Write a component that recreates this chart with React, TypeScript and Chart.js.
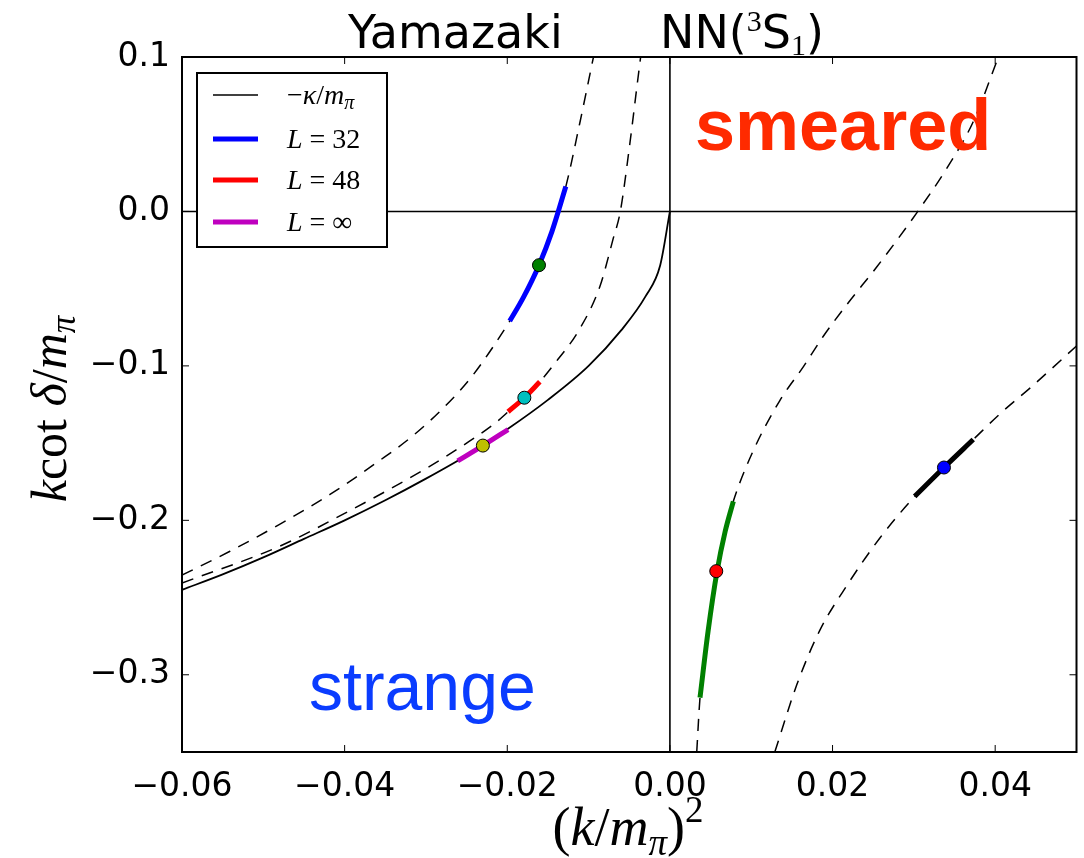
import React, { useEffect, useRef } from "react";
import { Chart, registerables } from "chart.js";

Chart.register(...registerables);

// ---------- data ----------
const X_TICKS = [-0.06, -0.04, -0.02, 0.0, 0.02, 0.04];
const Y_TICKS = [0.1, 0.0, -0.1, -0.2, -0.3];
const X_MIN = -0.06;
const X_MAX = 0.05;
const Y_MIN = -0.35;
const Y_MAX = 0.1;

// -kappa/m_pi (solid)
const kappaX = [-0.06, -0.055, -0.05, -0.045, -0.04, -0.035, -0.03, -0.025, -0.02, -0.015, -0.01, -0.006, -0.003, -0.0012, 0.0];
const kappaY = [-0.245, -0.235, -0.224, -0.212, -0.2, -0.187, -0.173, -0.158, -0.141, -0.122, -0.1, -0.077, -0.055, -0.035, 0.0];

// dashed curve through L=32
const dashAX = [-0.06, -0.0541, -0.048, -0.0418, -0.0357, -0.0316, -0.0271, -0.0242, -0.0197, -0.018, -0.0161, -0.0145, -0.0128, -0.0111, -0.0094];
const dashAY = [-0.2355, -0.22, -0.2026, -0.1832, -0.1613, -0.1452, -0.1232, -0.1058, -0.071, -0.0555, -0.0348, -0.0129, 0.0161, 0.0568, 0.1];

// dashed curve through L=48
const dashBX = [-0.06, -0.048, -0.04, -0.03, -0.025, -0.0215, -0.0199, -0.0179, -0.016, -0.0144, -0.0111, -0.0086, -0.007, -0.0061, -0.0049, -0.0041, -0.0036];
const dashBY = [-0.2406, -0.2168, -0.1955, -0.1665, -0.15, -0.1371, -0.1297, -0.1206, -0.1103, -0.1, -0.0761, -0.0484, -0.0181, 0.0, 0.045, 0.079, 0.1];

// dashed curve right (green)
const dashCX = [0.0033, 0.0037, 0.0047, 0.0058, 0.0068, 0.0078, 0.0102, 0.0135, 0.0164, 0.0188, 0.0218, 0.0255, 0.0304, 0.0341, 0.0373, 0.0404];
const dashCY = [-0.35, -0.3148, -0.2716, -0.2329, -0.2071, -0.1877, -0.1555, -0.1226, -0.1006, -0.0813, -0.06, -0.0355, -0.0006, 0.0284, 0.0581, 0.1];

// dashed curve far right (black)
const dashDX = [0.0129, 0.0156, 0.0184, 0.0218, 0.0258, 0.0299, 0.0337, 0.0373, 0.0406, 0.0446, 0.05];
const dashDY = [-0.35, -0.3065, -0.2716, -0.2419, -0.2116, -0.1858, -0.1658, -0.1477, -0.131, -0.1129, -0.0871];

// thick segments
const l32X = [-0.0197, -0.018, -0.0161, -0.0145, -0.0128];
const l32Y = [-0.071, -0.0555, -0.0348, -0.0129, 0.0161];
const l48X = [-0.0199, -0.0179, -0.016];
const l48Y = [-0.1297, -0.1206, -0.1103];
const lInfX = [-0.0261, -0.023, -0.0199];
const lInfY = [-0.1615, -0.1516, -0.1412];
const greenX = [0.0037, 0.0047, 0.0058, 0.0068, 0.0078];
const greenY = [-0.3148, -0.2716, -0.2329, -0.2071, -0.1877];
const blackX = [0.0301, 0.0337, 0.0373];
const blackY = [-0.1845, -0.1658, -0.1477];

// dots
const dotX = [-0.0161, -0.0179, -0.023, 0.0057, 0.0337];
const dotY = [-0.0348, -0.1206, -0.1516, -0.2329, -0.1658];
const dotColors = ["#008000", "#00bfbf", "#bfbf00", "#ff0000", "#0000ff"];

// ---------- helpers ----------
const pts = (xs: number[], ys: number[]) => xs.map((x, i) => ({ x, y: ys[i] }));
const SANS = '"DejaVu Sans", sans-serif';
const SERIF = '"Liberation Serif", "DejaVu Serif", serif';
const fmt = (v: number, d: number) => (v < 0 ? "\u2212" : "") + Math.abs(v).toFixed(d);

type Run = { t: string; size: number; italic?: boolean; bold?: boolean; family: string; dy?: number };
const fontOf = (r: Run) => `${r.italic ? "italic " : ""}${r.bold ? "bold " : ""}${r.size}px ${r.family}`;
function runsWidth(ctx: CanvasRenderingContext2D, runs: Run[]) {
  let w = 0;
  for (const r of runs) {
    ctx.font = fontOf(r);
    w += ctx.measureText(r.t).width;
  }
  return w;
}
function drawRuns(ctx: CanvasRenderingContext2D, runs: Run[], x: number, y: number, align: "left" | "center") {
  let cx = align === "center" ? x - runsWidth(ctx, runs) / 2 : x;
  ctx.textAlign = "left";
  ctx.textBaseline = "alphabetic";
  for (const r of runs) {
    ctx.font = fontOf(r);
    ctx.fillText(r.t, cx, y + (r.dy || 0));
    cx += ctx.measureText(r.t).width;
  }
}

const decor = {
  id: "decor",
  beforeDatasetsDraw(chart: any) {
    const { ctx, chartArea: a, scales } = chart;
    const x0 = scales.x.getPixelForValue(0);
    const y0 = scales.y.getPixelForValue(0);
    ctx.save();
    ctx.strokeStyle = "#000";
    ctx.lineWidth = 1.6;
    ctx.beginPath();
    ctx.moveTo(a.left, y0);
    ctx.lineTo(a.right, y0);
    ctx.moveTo(x0, a.top);
    ctx.lineTo(x0, a.bottom);
    ctx.stroke();
    ctx.restore();
  },
  afterDatasetsDraw(chart: any) {
    const { ctx, chartArea: a, scales } = chart;
    ctx.save();
    ctx.strokeStyle = "#000";
    ctx.lineWidth = 1;
    const TL = 7;
    ctx.beginPath();
    for (const v of X_TICKS) {
      const px = scales.x.getPixelForValue(v);
      ctx.moveTo(px, a.bottom);
      ctx.lineTo(px, a.bottom - TL);
      ctx.moveTo(px, a.top);
      ctx.lineTo(px, a.top + TL);
    }
    for (const v of Y_TICKS) {
      const py = scales.y.getPixelForValue(v);
      ctx.moveTo(a.left, py);
      ctx.lineTo(a.left + TL, py);
      ctx.moveTo(a.right, py);
      ctx.lineTo(a.right - TL, py);
    }
    ctx.stroke();
    ctx.lineWidth = 2;
    ctx.strokeRect(a.left, a.top, a.right - a.left, a.bottom - a.top);

    // legend
    const lx = 197, ly = 73, lw = 190, lh = 174;
    ctx.fillStyle = "#fff";
    ctx.fillRect(lx, ly, lw, lh);
    ctx.lineWidth = 2;
    ctx.strokeStyle = "#000";
    ctx.strokeRect(lx, ly, lw, lh);
    const fs = 28;
    const rows = [
      { c: "#000", w: 1.6, y: 95, runs: [
        { t: "\u2212", size: fs, family: SERIF },
        { t: "\u03ba", size: fs, italic: true, family: SERIF },
        { t: "/", size: fs, family: SERIF },
        { t: "m", size: fs, italic: true, family: SERIF },
        { t: "\u03c0", size: 20, italic: true, family: SERIF, dy: 5 },
      ] },
      { c: "#0000ff", w: 5, y: 139, runs: [
        { t: "L", size: fs, italic: true, family: SERIF },
        { t: " = 32", size: fs, family: SERIF },
      ] },
      { c: "#ff0000", w: 5, y: 180, runs: [
        { t: "L", size: fs, italic: true, family: SERIF },
        { t: " = 48", size: fs, family: SERIF },
      ] },
      { c: "#bf00bf", w: 5, y: 222, runs: [
        { t: "L", size: fs, italic: true, family: SERIF },
        { t: " = \u221e", size: fs, family: SERIF },
      ] },
    ];
    for (const r of rows) {
      ctx.strokeStyle = r.c;
      ctx.lineWidth = r.w;
      ctx.beginPath();
      ctx.moveTo(213, r.y);
      ctx.lineTo(258, r.y);
      ctx.stroke();
      ctx.fillStyle = "#000";
      drawRuns(ctx, r.runs as Run[], 287, r.y + 9, "left");
    }
    ctx.restore();
  },
  afterDraw(chart: any) {
    const { ctx } = chart;
    ctx.save();
    ctx.fillStyle = "#000";
    drawRuns(ctx, [{ t: "Yamazaki", size: 46, family: SANS }], 348, 48, "left");
    drawRuns(ctx, [
      { t: "NN(", size: 46, family: SANS },
      { t: "3", size: 30, family: SERIF, dy: -17 },
      { t: "S", size: 46, family: SANS },
      { t: "1", size: 30, family: SERIF, dy: 7 },
      { t: ")", size: 46, family: SANS },
    ], 660, 48, "left");

    const xs = 54;
    const xl: Run[] = [
      { t: "(", size: xs, family: SERIF },
      { t: "k", size: xs, italic: true, family: SERIF },
      { t: "/", size: xs, family: SERIF },
      { t: "m", size: xs, italic: true, family: SERIF },
      { t: "\u03c0", size: 37, italic: true, family: SERIF, dy: 10 },
      { t: ")", size: xs, family: SERIF },
      { t: "2", size: 37, family: SERIF, dy: -23 },
    ];
    drawRuns(ctx, xl, 628, 845, "center");

    const yl: Run[] = [
      { t: "k", size: 50, italic: true, family: SERIF },
      { t: "cot ", size: 50, family: SERIF },
      { t: "\u03b4", size: 50, italic: true, family: SERIF },
      { t: "/", size: 50, family: SERIF },
      { t: "m", size: 50, italic: true, family: SERIF },
      { t: "\u03c0", size: 35, italic: true, family: SERIF, dy: 9 },
    ];
    ctx.save();
    ctx.translate(66, 409);
    ctx.rotate(-Math.PI / 2);
    drawRuns(ctx, yl, 0, 0, "center");
    ctx.restore();

    ctx.fillStyle = "#ff2a00";
    drawRuns(ctx, [{ t: "smeared", size: 72, bold: true, family: '"Liberation Sans", Arial, sans-serif' }], 695, 150, "left");
    ctx.fillStyle = "#0a3cff";
    drawRuns(ctx, [{ t: "strange", size: 68, family: '"Liberation Sans", Arial, sans-serif' }], 309, 710, "left");
    ctx.restore();
  },
};

const dashed = (xs: number[], ys: number[]) => ({
  data: pts(xs, ys),
  borderColor: "#000",
  borderWidth: 1.5,
  borderDash: [12, 9],
  pointRadius: 0,
  cubicInterpolationMode: "monotone" as const,
  clip: 0,
});
const seg = (xs: number[], ys: number[], color: string, width: number) => ({
  data: pts(xs, ys),
  borderColor: color,
  borderWidth: width,
  borderCapStyle: "butt" as const,
  pointRadius: 0,
  cubicInterpolationMode: "monotone" as const,
  clip: 0,
});

export default function App() {
  const ref = useRef<HTMLCanvasElement>(null);
  useEffect(() => {
    document.body.style.margin = "0";
    // Chart.js draws dataset index 0 on top, so the list runs top -> bottom.
    const chart = new Chart(ref.current!, {
      type: "line",
      data: {
        datasets: [
          {
            data: pts(dotX, dotY),
            showLine: false,
            pointRadius: 6.5,
            pointBackgroundColor: dotColors,
            pointBorderColor: "#000",
            pointBorderWidth: 1,
            clip: 0,
          } as any,
          seg(l32X, l32Y, "#0000ff", 5),
          seg(l48X, l48Y, "#ff0000", 5),
          seg(lInfX, lInfY, "#bf00bf", 5),
          seg(greenX, greenY, "#008000", 5),
          seg(blackX, blackY, "#000", 5),
          seg(kappaX, kappaY, "#000", 1.8),
          dashed(dashAX, dashAY),
          dashed(dashBX, dashBY),
          dashed(dashCX, dashCY),
          dashed(dashDX, dashDY),
        ],
      },
      options: {
        responsive: false,
        animation: false,
        devicePixelRatio: 1,
        layout: { padding: { left: 0, right: 7, top: 57, bottom: 0 } },
        plugins: { legend: { display: false }, tooltip: { enabled: false }, title: { display: false } },
        scales: {
          x: {
            type: "linear",
            min: X_MIN,
            max: X_MAX,
            grid: { display: false, drawTicks: false },
            border: { display: false },
            afterBuildTicks: (s: any) => {
              s.ticks = X_TICKS.map((v) => ({ value: v }));
            },
            afterFit: (s: any) => {
              s.height = 106;
            },
            ticks: {
              autoSkip: false,
              maxRotation: 0,
              padding: 16,
              color: "#000",
              font: { family: SANS, size: 33 },
              callback: (v: any) => fmt(Number(v), 2),
            },
          },
          y: {
            type: "linear",
            min: Y_MIN,
            max: Y_MAX,
            grid: { display: false, drawTicks: false },
            border: { display: false },
            afterBuildTicks: (s: any) => {
              s.ticks = Y_TICKS.map((v) => ({ value: v }));
            },
            afterFit: (s: any) => {
              s.width = 182;
            },
            ticks: {
              autoSkip: false,
              padding: 12,
              color: "#000",
              font: { family: SANS, size: 33 },
              callback: (v: any) => fmt(Number(v), 1),
            },
          },
        },
      },
      plugins: [decor],
    } as any);
    return () => chart.destroy();
  }, []);
  return (
    <div style={{ position: "absolute", left: 0, top: 0, width: 1084, height: 858, background: "#fff" }}>
      <canvas ref={ref} width={1084} height={858} style={{ display: "block" }} />
    </div>
  );
}
